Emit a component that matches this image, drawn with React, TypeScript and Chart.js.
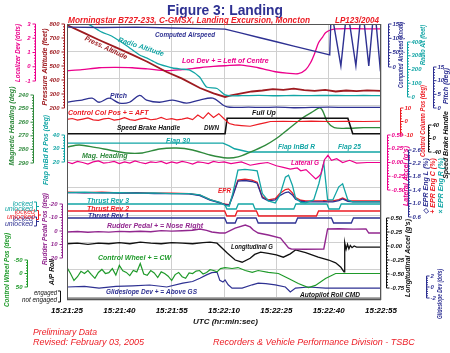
import React, { useEffect, useRef } from 'react';
import { Chart, registerables } from 'chart.js';

Chart.register(...registerables);

// ---------- time axis (seconds after 15:21:25 UTC) ----------
const xTickLabels = ['15:21:25', '15:21:40', '15:21:55', '15:22:10', '15:22:25', '15:22:40', '15:22:55'];

// ---------- series ----------
const casT = [0, 10, 20, 30, 40, 45.3, 50, 55, 60, 65, 70, 75.3, 75.6, 76.4, 78.5, 79.8, 81.0, 82.8, 84.0, 85.2, 86.5, 87.6, 88.6, 89.7, 90];
const casV = [139, 138, 139, 136, 134, 132, 118, 103, 88, 73, 58, 42, 152, 152, 4, 152, 152, 4, 152, 152, 4, 152, 152, 4, 30];

const raT = [0, 4, 7.5, 10, 13, 17, 20.8, 22.8, 25.7, 28.6, 30.3, 33, 35.2, 38, 40, 43, 45.3, 47, 50, 55, 60, 65, 70, 75, 80, 85, 90];
const raV = [610, 560, 509, 472, 440, 375, 305, 284, 247, 222, 211, 203, 196, 145, 73, 62, 15, 8, 10, 12, 9, 11, 10, 12, 10, 11, 10];

const paT = [0, 5, 9.2, 14, 18.8, 23, 28.6, 33, 38.1, 42, 45.3, 47, 50, 53, 56, 59, 62, 65, 68, 71, 74, 77, 80, 83, 86, 90];
const paV = [793, 735, 686, 633, 579, 530, 457, 410, 343, 305, 279, 290, 305, 318, 325, 335, 330, 338, 328, 322, 330, 318, 325, 320, 326, 322];

const locT = [0, 4.3, 9.2, 14, 18.7, 23, 28.6, 33, 38, 42, 45.3, 50, 54.8, 57, 59.7, 63, 66.3, 68.4, 69.8, 71, 72.1, 73.3, 74.1, 75.5, 77, 80, 85, 90];
const locV = [-0.28, -0.2, -0.07, -0.05, -0.07, -0.15, -0.28, -0.2, -0.07, 0.02, 0.07, 0.12, -0.07, -0.2, -0.35, -0.45, -0.49, -0.21, 0.28, 0.95, 1.68, 2.1, 2.38, 2.58, 2.66, 2.68, 2.66, 2.66];

const pitchT = [0, 2, 4.3, 7.2, 9.2, 12.1, 15, 17.9, 20.8, 22.8, 26.5, 30.3, 34.3, 38, 41.8, 44.7, 45.9, 48, 52, 56, 60, 65, 70, 75, 80, 85, 90];
const pitchV = [2.1, 2.5, 2.9, 3.6, 2.1, 3.6, 1.8, 2.1, 4.6, 2.9, 2.1, 2.9, 1.8, 2.9, 3.6, 1.1, 0.4, 0.2, 0.3, 0.2, 0.3, 0.1, 0.2, 0.3, 0.2, 0.2, 0.2];

const ccT = [0, 1.5, 3, 4.5, 6, 7.5, 9, 10.5, 12, 13.5, 15, 16.5, 18, 19.5, 21, 22.5, 24, 25.5, 27, 28.5, 30, 31.5, 33, 34.5, 36, 37.5, 39, 40.5, 42, 43.5, 45, 46.5, 48, 50, 52.5, 55, 57, 58.3, 62, 66, 70, 75, 80, 85, 90];
const ccV = [1.5, 2.2, 1.0, 1.8, 2.6, 1.2, 0.8, 1.9, 2.4, 1.1, 1.6, 2.8, 1.4, 0.9, 2.0, 2.5, 1.3, 1.7, 3.0, 1.5, 2.1, 1.2, 1.8, 2.7, 1.4, 4.8, 2.2, 6.5, 3.0, 5.8, 2.0, -1.5, -2.5, -3.0, -3.5, -2.0, -0.8, 0, 0.2, 0, 0.3, 0, 0.2, 0, 0.2];

const sbT = [0, 45.3, 45.9, 80.5, 81.9, 90];
const sbV = [14, 14, 60, 60, 14, 14];

const hdgT = [0, 3.5, 8, 12.1, 17, 21.6, 26.5, 31.4, 36, 41, 45.9, 49, 52.5, 56.8, 60, 63, 66.9, 70, 72.7, 74.7, 76.6, 80, 85, 90];
const hdgV = [278.2, 276.8, 278.5, 280.4, 282.6, 282.6, 279.7, 279, 280.4, 284.1, 286.3, 285.5, 282, 277, 272, 266, 258, 253, 249.6, 260, 264, 264.5, 264, 264];

const flapT = [0, 44.7, 46.5, 48, 49.6, 52, 90];
const flapV = [34, 34, 32, 29.8, 28.9, 27.4, 27.4];

const latT = [0, 1.5, 3, 4.5, 6, 7.5, 9, 10.5, 12, 13.5, 15, 16.5, 18, 19.5, 21, 22.5, 24, 25.5, 27, 28.5, 30, 31.5, 33, 34.5, 36, 37.5, 39, 40.5, 42, 43.5, 45,
  47, 50, 52.5, 55, 57.5, 60, 62, 64, 66, 67, 68.5, 70, 71.3, 72.2, 72.8, 73.8, 74.8, 75.8, 77.3, 79, 81, 83, 86, 90];
const latV = [0.01, -0.02, 0.02, 0.0, -0.03, 0.01, 0.03, -0.01, 0.0, 0.02, -0.02, 0.01, -0.01, 0.03, 0.0, -0.02, 0.01, 0.0, 0.02, -0.02, 0.01, -0.01, 0.02, 0.0, -0.03, 0.01, 0.0, -0.02, 0.02, 0.0, 0.01,
  -0.02, 0.01, -0.05, -0.02, 0.0, -0.06, -0.09, -0.12, -0.1, -0.15, -0.13, -0.22, -0.30, -0.25, -0.2, 0.05, 0.13, 0.04, 0.07, 0.0, 0.04, -0.01, 0.0, 0.0];

const eprT = [0, 5, 10, 15, 20, 25, 30, 35, 38.1, 41, 43.8, 45.3, 46.5, 47.5, 49, 51, 53, 54.5, 56, 57.7, 59.7, 61, 62.6, 63.5, 64.6, 65.5, 67, 68.4, 70.7, 72.2, 73.3, 73.6, 74.7, 76.2, 77.9, 79, 80.5, 81.9, 85, 90];
const eprR = [1.33, 1.34, 1.32, 1.33, 1.31, 1.32, 1.30, 1.30, 1.26, 1.12, 1.04, 0.95, 0.92, 1.3, 2.0, 2.02, 2.0, 1.98, 1.3, 1.08, 1.02, 1.25, 1.79, 1.85, 1.55, 1.17, 1.04, 1.02, 1.11, 1.6, 2.09, 2.21, 1.11, 1.11, 1.50, 1.59, 1.11, 1.05, 1.05, 1.05];
const eprC = [1.34, 1.33, 1.34, 1.32, 1.33, 1.31, 1.31, 1.30, 1.25, 1.12, 1.03, 0.98, 0.97, 1.25, 1.70, 1.73, 1.70, 1.64, 1.20, 1.11, 1.15, 1.30, 1.42, 1.44, 1.32, 1.18, 1.10, 1.08, 1.08, 1.08, 1.08, 1.09, 1.08, 1.08, 1.12, 1.17, 1.09, 1.08, 1.08, 1.08];
const eprL = [1.33, 1.32, 1.33, 1.31, 1.32, 1.30, 1.30, 1.29, 1.24, 1.10, 1.02, 0.97, 0.96, 1.22, 1.67, 1.69, 1.66, 1.61, 1.17, 1.08, 1.11, 1.24, 1.33, 1.35, 1.26, 1.13, 1.07, 1.05, 1.05, 1.05, 1.05, 1.06, 1.05, 1.05, 1.09, 1.14, 1.07, 1.05, 1.05, 1.05];

// thrust reversers: 1 = locked, 0 = unlocked
const rev3T = [0, 45.2, 45.8, 48.5, 49.1, 53.3, 53.9, 65, 65.6, 74.5, 75.1, 78, 78.6, 90];
const rev3V = [1, 1, 0, 0, 1, 1, 0, 0, 1, 1, 0, 0, 1, 1];
const rev2T = [0, 45.2, 45.8, 48.2, 48.8, 54.3, 54.9, 71.5, 72.1, 90];
const rev2V = [1, 1, 0, 0, 1, 1, 0, 0, 1, 1];
const rev1T = [0, 45.2, 45.8, 48.2, 48.8, 54.2, 54.8, 65.5, 66.1, 75.8, 76.4, 81.5, 82.1, 90];
const rev1V = [1, 1, 0, 0, 1, 1, 0, 0, 1, 1, 0, 0, 1, 1];

const rudT = [0, 3, 6, 9, 12, 15, 18, 21, 24, 27, 30, 33, 36, 38.1, 40, 41.5, 43.8, 45.3, 48.2, 51.1, 52.5, 53.4, 54.8, 57.7, 61.2, 63.5, 64.3, 68, 73.6, 74.7, 78, 82, 85.7, 86.5, 90];
const rudV = [0.7, 0.4, 0.9, 0.5, 0.8, 0.3, 0.6, 0.2, 0.5, -0.3, 0.1, -0.2, -0.6, -1.5, -0.5, 0.7, 1.5, 1.5, -2.2, -4.4, -3.0, -0.7, 1.5, 3.0, 5.2, 12.6, 13.3, 13.5, 13.3, -1.5, -1.7, -1.4, -1.5, 1.5, 1.5];

const lonT = [0, 3, 6, 9, 12, 15, 18, 21, 24, 27, 30, 33, 36, 39, 41, 43, 44.5, 46, 48.2, 50.2, 52.5, 53.8, 55.5, 57.7, 60, 62, 64, 65.5, 68.4, 72, 75, 77, 78.5, 79.4, 79.6, 80, 80.4, 80.8, 81.2, 81.7, 82.3, 83, 90];
const lonV = [0.04, 0.05, 0.03, 0.05, 0.04, 0.06, 0.04, 0.07, 0.05, 0.04, 0.06, 0.05, 0.04, 0.06, 0.07, 0.05, -0.04, -0.13, -0.25, -0.29, -0.22, -0.15, -0.11, -0.13, -0.16, -0.2, -0.14, -0.07, -0.12, -0.2, -0.25, -0.3, -0.38, -0.46, 0.06, -0.06, 0.03, -0.05, 0.01, -0.03, 0.0, -0.02, -0.02];

const cwT = [0, 1, 2, 3, 4, 5, 6, 7, 8, 9, 10, 11, 12, 13, 14, 15, 16, 17, 18, 19, 20, 21, 22, 23, 24, 25, 26, 27, 28, 29, 30, 31, 32, 33, 34, 35, 36, 37, 38, 39, 40, 41, 42, 43, 44,
  45.3, 47.3, 49, 51.1, 53.1, 54.8, 57.7, 60.6, 63.5, 66.3, 69.2, 71.2, 74.1, 77, 80, 84, 90];
const cwV = [-22, 0, 26, 12, -8, 0, -11, 4, 18, -4, -15, 0, -3, -18, 6, -30, -10, -4, 8, -11, -6, -37, 2, 7, -11, -2, 15, -6, 0, 10, 26, 4, -4, 12, 18, -2, 0, -9, -11, 2, -4, -14, -11, -6, -18,
  -22, -18.5, -22, -11, -4, -11, -4, 0, 18.5, 37, 52, 44, 18.5, 0, 0, 0, 0];

const gsT = [0, 5, 9.2, 14, 18.8, 23.7, 28.6, 33.2, 36, 38.1, 40, 41.5, 43, 43.8, 44.7, 45.3, 46.2, 47.3, 50.2, 53.1, 54.8, 57, 59.7, 62.6, 64, 65.5, 69.2, 74.1, 80, 90];
const gsV = [0, 0.1, -0.2, 0.1, 0.2, 0.36, 0, 0.7, 1.0, 1.6, 2.2, 2.6, 2.7, 1.2, 0.9, 1.3, 0.4, -0.2, -0.2, 0.4, 0.7, 0.6, 0.4, 0, -0.9, -0.2, 0, -0.2, -0.2, -0.2];

const apT = [0, 90];
const apV = [0, 0];

// ---------- axis tick values ----------
const locTicks = [3, 2, 1, 0, -1];
const paltTicks = [800, 700, 600, 500, 400, 300, 200];
const hdgTicks = [240, 250, 260, 270, 280, 290];
const flapTicks = [40, 30, 20];
const rudTicks = [-20, -10, 0, 10, 20];
const cwTicks = [-50, 0, 50];
const casTicks = [150, 100, 50, 0];
const raltTicks = [400, 300, 200, 100, 0];
const pitchTicks = [15, 10, 5, 0];
const ccolTicks = [10, 0, -10];
const sbhTicks = [40, 0, -40];
const latTicks = [0.5, 0.25, 0, -0.25, -0.5];
const eprTicks = [2.6, 2.2, 1.8, 1.4, 1.0, 0.6];
const lonTicks = [0.5, 0.25, 0, -0.25, -0.5, -0.75];
const gsTicks = [2, 0, -2];

// ---------- styling ----------
const FAM = '"Liberation Sans", Arial, Helvetica, sans-serif';
const BLUE = '#2e3192', TEAL = '#12a5a5', RED = '#ec1c24', DARKRED = '#9e1b20', MAGENTA = '#ec008c';
const GREEN = '#2f8a3c', GREEN2 = '#1f9a2a', PURPLE = '#92278f', BLACK = '#111111', GRAY = '#8a8a8a';
const PLOT_TOP = 24, PLOT_BOTTOM = 300;

// value vA sits at pixel pA, vB at pB; returns a linear scale range over the plot height
function band(vA: number, pA: number, vB: number, pB: number) {
  const s = (vA - vB) / (pB - pA);
  if (s > 0) return { min: vB - (PLOT_BOTTOM - pB) * s, max: vA + (pA - PLOT_TOP) * s, reverse: false };
  const r = -s;
  return { min: vA - (pA - PLOT_TOP) * r, max: vB + (PLOT_BOTTOM - pB) * r, reverse: true };
}

const bandDefs: [string, number, number, number, number][] = [
  ['cas', 150, 24, 0, 67], ['ralt', 400, 42, 0, 97], ['palt', 800, 24, 200, 108], ['loc', 3, 24, -1, 81],
  ['pitch', 15, 67, 0, 108], ['ccol', 10, 108, -10, 135], ['sbh', 40, 125, -40, 152], ['hdg', 240, 95, 290, 163],
  ['flap', 40, 135, 20, 162], ['lat', 0.5, 135, -0.5, 190], ['epr', 2.6, 150, 0.6, 217],
  ['rev3', 1, 204, 0, 209], ['rev2', 1, 211, 0, 216], ['rev1', 1, 218, 0, 223],
  ['rud', -20, 204, 20, 258], ['lon', 0.5, 218, -0.75, 288], ['cw', -50, 260, 50, 287],
  ['gs', 2, 276, -2, 298], ['ap', 1, 293, 0, 299],
];

const series = [
  { t: apT, v: apV, ax: 'ap', c: GRAY, w: 3, ten: 0 },
  { t: casT, v: casV, ax: 'cas', c: BLUE, w: 1.4, ten: 0 },
  { t: raT, v: raV, ax: 'ralt', c: TEAL, w: 1.3, ten: 0.2 },
  { t: paT, v: paV, ax: 'palt', c: DARKRED, w: 1.8, ten: 0 },
  { t: locT, v: locV, ax: 'loc', c: MAGENTA, w: 1.3, ten: 0.3 },
  { t: pitchT, v: pitchV, ax: 'pitch', c: BLUE, w: 1.3, ten: 0.35 },
  { t: ccT, v: ccV, ax: 'ccol', c: RED, w: 1.2, ten: 0 },
  { t: sbT, v: sbV, ax: 'sbh', c: BLACK, w: 1.6, ten: 0 },
  { t: hdgT, v: hdgV, ax: 'hdg', c: GREEN, w: 1.4, ten: 0.3 },
  { t: flapT, v: flapV, ax: 'flap', c: TEAL, w: 1.4, ten: 0 },
  { t: latT, v: latV, ax: 'lat', c: MAGENTA, w: 1.2, ten: 0 },
  { t: eprT, v: eprR, ax: 'epr', c: TEAL, w: 1.3, ten: 0 },
  { t: eprT, v: eprL, ax: 'epr', c: BLUE, w: 1.3, ten: 0 },
  { t: eprT, v: eprC, ax: 'epr', c: RED, w: 1.3, ten: 0 },
  { t: rev3T, v: rev3V, ax: 'rev3', c: TEAL, w: 1.3, ten: 0 },
  { t: rev2T, v: rev2V, ax: 'rev2', c: RED, w: 1.3, ten: 0 },
  { t: rev1T, v: rev1V, ax: 'rev1', c: BLUE, w: 1.3, ten: 0 },
  { t: rudT, v: rudV, ax: 'rud', c: PURPLE, w: 1.4, ten: 0 },
  { t: lonT, v: lonV, ax: 'lon', c: BLACK, w: 1.3, ten: 0 },
  { t: cwT, v: cwV, ax: 'cw', c: GREEN2, w: 1.2, ten: 0 },
  { t: gsT, v: gsV, ax: 'gs', c: BLUE, w: 1.2, ten: 0 },
];

type AxisSpec = { id?: string; ticks?: number[]; dec?: number; x?: number; side?: 'L' | 'R'; color: string; title: string; tx: number; ty: number; tw: number };
const AXES: AxisSpec[] = [
  { id: 'loc', ticks: locTicks, dec: 0, x: 35, side: 'L', color: MAGENTA, title: 'Localizer Dev (dots)', tx: 18, ty: 53, tw: 58 },
  { id: 'palt', ticks: paltTicks, dec: 0, x: 64, side: 'L', color: DARKRED, title: 'Pressure Altitude (feet)', tx: 45, ty: 67, tw: 84 },
  { id: 'hdg', ticks: hdgTicks, dec: 0, x: 33, side: 'L', color: GREEN, title: 'Magnetic Heading (deg)', tx: 12, ty: 126, tw: 80 },
  { id: 'flap', ticks: flapTicks, dec: 0, x: 64, side: 'L', color: TEAL, title: 'Flap InBd R Pos (deg)', tx: 46, ty: 150, tw: 70 },
  { id: 'rud', ticks: rudTicks, dec: 0, x: 62, side: 'L', color: PURPLE, title: 'Rudder Pedal Pos (deg)', tx: 45, ty: 229, tw: 72 },
  { id: 'cw', ticks: cwTicks, dec: 0, x: 27, side: 'L', color: GREEN2, title: 'Control Wheel Pos (deg)', tx: 7, ty: 270, tw: 74 },
  { color: BLACK, title: 'A/P Roll', tx: 52, ty: 272, tw: 26 },
  { id: 'cas', ticks: casTicks, dec: 0, x: 388, side: 'R', color: BLUE, title: 'Computed Airspeed (Knots)', tx: 401, ty: 55, tw: 66 },
  { id: 'ralt', ticks: raltTicks, dec: 0, x: 407, side: 'R', color: TEAL, title: 'Radio Alt (feet)', tx: 423, ty: 45, tw: 40 },
  { id: 'pitch', ticks: pitchTicks, dec: 0, x: 433, side: 'R', color: BLUE, title: 'Pitch (deg)', tx: 446, ty: 86, tw: 42 },
  { id: 'ccol', ticks: ccolTicks, dec: 0, x: 400, side: 'R', color: RED, title: 'Control Column Pos (deg)', tx: 423, ty: 121, tw: 72 },
  { id: 'sbh', ticks: sbhTicks, dec: 0, x: 428, side: 'R', color: BLACK, title: 'Speed Brake Handle', tx: 446, ty: 145, tw: 68 },
  { id: 'lat', ticks: latTicks, dec: 2, x: 387, side: 'R', color: MAGENTA, title: "Lateral Accel (g's)", tx: 406, ty: 176, tw: 72 },
  { id: 'epr', ticks: eprTicks, dec: 1, x: 408, side: 'R', color: BLUE, title: '\u25C7 EPR Eng L (%)', tx: 426, ty: 186, tw: 68 },
  { color: RED, title: '+ EPR Eng C (%)', tx: 433, ty: 186, tw: 68 },
  { color: TEAL, title: '\u00D7 EPR Eng R (%)', tx: 441, ty: 186, tw: 68 },
  { id: 'lon', ticks: lonTicks, dec: 2, x: 386, side: 'R', color: BLACK, title: "Longitudinal Accel (g's)", tx: 408, ty: 258, tw: 78 },
  { id: 'gs', ticks: gsTicks, dec: 0, x: 426, side: 'R', color: BLUE, title: 'Glideslope Dev (dots)', tx: 440, ty: 294, tw: 50 },
];

// in-plot annotations: text, left x, centre y, width, colour, rotation (deg, about centre if set)
const plotLabels: [string, number, number, number, string, number][] = [
  ['Computed Airspeed', 155, 35, 60, BLUE, 0],
  ['Loc Dev + = Left of Centre', 182, 61, 95, MAGENTA, 0],
  ['Pitch', 110, 96, 17, BLUE, 0],
  ['Control Col Pos + = AFT', 68, 113, 88, RED, 0],
  ['Speed Brake Handle', 117, 128, 63, BLACK, 0],
  ['DWN', 204, 128, 15, BLACK, 0],
  ['Full Up', 252, 113, 25, BLACK, 0],
  ['Flap 30', 166, 141, 24, TEAL, 0],
  ['Mag. Heading', 82, 156, 46, GREEN, 0],
  ['Flap InBd R', 278, 147, 37, TEAL, 0],
  ['Flap 25', 338, 147, 23, TEAL, 0],
  ['Lateral G', 291, 163, 28, MAGENTA, 0],
  ['EPR', 218, 191, 13, RED, 0],
  ['Thrust Rev 3', 87, 201, 42, TEAL, 0],
  ['Thrust Rev 2', 87, 209, 42, RED, 0],
  ['Thrust Rev 1', 88, 216, 41, BLUE, 0],
  ['Rudder Pedal + = Nose Right', 107, 226, 96, PURPLE, 0],
  ['Longitudinal G', 231, 247, 42, BLACK, 0],
  ['Control Wheel + = CW', 98, 258, 77, GREEN2, 0],
  ['Glideslope Dev + = Above GS', 106, 292, 91, BLUE, 0],
  ['Autopilot Roll CMD', 300, 295, 60, BLACK, 0],
  ['Radio Altitude', 141, 47, 55, TEAL, 18],
  ['Press. Altitude', 106, 48, 46, DARKRED, 25],
];

const fmt = (v: number, dec: number) => (v < 0 ? '-' : '') + Math.abs(v).toFixed(dec);

function text(ctx: CanvasRenderingContext2D, s: string, x: number, y: number, color: string, font: string, align: CanvasTextAlign, maxW?: number, rot?: number) {
  ctx.save();
  ctx.fillStyle = color;
  ctx.font = font;
  ctx.textAlign = align;
  ctx.textBaseline = 'middle';
  ctx.translate(x, y);
  if (rot) ctx.rotate(rot);
  if (maxW) ctx.fillText(s, 0, 0, maxW); else ctx.fillText(s, 0, 0);
  ctx.restore();
}

const LABEL_FONT = `italic bold 7px ${FAM}`;
const TICK_FONT = `italic bold 6px ${FAM}`;

const decorPlugin = {
  id: 'decor',
  afterDraw(chart: any) {
    const ctx: CanvasRenderingContext2D = chart.ctx;
    const ca = chart.chartArea;
    ctx.save();
    // frame
    ctx.strokeStyle = '#555';
    ctx.lineWidth = 1;
    ctx.strokeRect(ca.left + 0.5, ca.top + 0.5, ca.right - ca.left - 1, ca.bottom - ca.top - 1);

    // axes
    AXES.forEach((ax) => {
      if (ax.id && ax.ticks && ax.x !== undefined) {
        const sc = chart.scales[ax.id];
        const ys = ax.ticks.map((v) => sc.getPixelForValue(v));
        const dir = ax.side === 'L' ? -1 : 1;
        const x = Math.round(ax.x) + 0.5;
        ctx.strokeStyle = ax.color;
        ctx.lineWidth = 1;
        ctx.beginPath();
        ctx.moveTo(x, Math.min(...ys));
        ctx.lineTo(x, Math.max(...ys));
        ys.forEach((y) => { ctx.moveTo(x, y); ctx.lineTo(x + dir * 3, y); });
        for (let i = 0; i < ys.length - 1; i++) {
          for (let k = 1; k < 5; k++) {
            const y = ys[i] + ((ys[i + 1] - ys[i]) * k) / 5;
            ctx.moveTo(x, y);
            ctx.lineTo(x + dir * 1.5, y);
          }
        }
        ctx.stroke();
        ax.ticks.forEach((v, i) => text(ctx, fmt(v, ax.dec || 0), ax.x! + dir * 4.5, ys[i], ax.color, TICK_FONT, dir < 0 ? 'right' : 'left'));
      }
      text(ctx, ax.title, ax.tx, ax.ty, ax.color, LABEL_FONT, 'center', ax.tw, -Math.PI / 2);
    });

    // thrust reverser state labels
    const revLab: [string, string, number][] = [
      [BLUE, 'rev1', 33],
      [RED, 'rev2', 35],
      [TEAL, 'rev3', 33],
    ];
    revLab.forEach(([c, id, xr]) => {
      const sc = chart.scales[id];
      const off = id === 'rev2' ? 1.5 : id === 'rev1' ? 1 : 0;
      const yl = sc.getPixelForValue(1) + off;
      const yu = sc.getPixelForValue(0) + off;
      text(ctx, 'locked', xr, yl, c, `italic 7px ${FAM}`, 'right', 22);
      text(ctx, 'unlocked', xr, yu, c, `italic 7px ${FAM}`, 'right', 30);
      ctx.strokeStyle = c;
      ctx.beginPath();
      ctx.moveTo(xr + 1, yl - 2); ctx.lineTo(xr + 3.5, yl - 2); ctx.lineTo(xr + 3.5, yu + 2); ctx.lineTo(xr + 1, yu + 2);
      ctx.moveTo(xr + 3.5, (yl + yu) / 2); ctx.lineTo(xr + 6, (yl + yu) / 2);
      ctx.stroke();
    });
    // A/P roll state labels
    const ap = chart.scales['ap'];
    const ye = ap.getPixelForValue(1), yn = ap.getPixelForValue(0) + 1;
    text(ctx, 'engaged', 57, ye, BLACK, `italic 7px ${FAM}`, 'right', 23);
    text(ctx, 'not engaged', 57, yn, BLACK, `italic 7px ${FAM}`, 'right', 35);
    ctx.strokeStyle = BLACK;
    ctx.beginPath();
    ctx.moveTo(58, ye - 2); ctx.lineTo(60.5, ye - 2); ctx.lineTo(60.5, yn + 2); ctx.lineTo(58, yn + 2);
    ctx.stroke();

    // annotations inside the plot
    plotLabels.forEach(([s, x, y, w, c, rot]) => {
      if (rot) text(ctx, s, x, y, c, LABEL_FONT, 'center', w, (rot * Math.PI) / 180);
      else text(ctx, s, x, y, c, LABEL_FONT, 'left', w);
    });

    // headings and footers
    ctx.textBaseline = 'alphabetic';
    ctx.fillStyle = BLUE;
    ctx.font = `bold 14px ${FAM}`;
    ctx.textAlign = 'center';
    ctx.fillText('Figure 3: Landing', 225, 15, 116);
    ctx.fillStyle = RED;
    ctx.font = `italic bold 9px ${FAM}`;
    ctx.textAlign = 'left';
    ctx.fillText('Morningstar B727-233, C-GMSX, Landing Excursion, Moncton', 68, 23, 242);
    ctx.fillText('LP123/2004', 335, 23, 44);
    ctx.fillStyle = BLACK;
    ctx.font = `italic bold 8px ${FAM}`;
    ctx.fillText('UTC (hr:min:sec)', 193, 324, 73);
    ctx.fillStyle = RED;
    ctx.font = `italic 9px ${FAM}`;
    ctx.fillText('Preliminary Data', 33, 335, 64);
    ctx.fillText('Revised: February 03, 2005', 33, 345, 112);
    ctx.fillText('Recorders & Vehicle Performance Division - TSBC', 213, 345, 202);
    ctx.restore();
  },
};

// background grid: lines every 27.3 px starting 17 px below the plot top
const GRID_STEP_PX = 27.3;
const GRID_FIRST_PX = 41;

export default function App() {
  const ref = useRef<HTMLCanvasElement>(null);
  useEffect(() => {
    if (!ref.current) return;
    const gMin = -(GRID_FIRST_PX - PLOT_TOP) / GRID_STEP_PX;
    const gMax = gMin + (PLOT_BOTTOM - PLOT_TOP) / GRID_STEP_PX;
    const scales: any = {
      x: {
        type: 'linear',
        min: 0,
        max: 90,
        ticks: {
          stepSize: 15,
          autoSkip: false,
          maxRotation: 0,
          padding: 6,
          color: '#000',
          font: { family: FAM, size: 8, style: 'italic', weight: 'bold' },
          callback: (v: number) => xTickLabels[Math.round(v / 15)],
        },
        grid: { color: '#cfcfcf', drawTicks: false },
        border: { display: false },
        afterFit: (s: any) => { s.height = 22; },
      },
      grid: {
        axis: 'y',
        type: 'linear',
        position: 'left',
        min: gMin,
        max: gMax,
        reverse: true,
        bounds: 'data',
        ticks: { display: false, stepSize: 1 },
        grid: { color: '#d0d0d0', drawTicks: false },
        border: { display: false },
        afterFit: (s: any) => { s.width = 0; },
      },
    };
    bandDefs.forEach(([id, vA, pA, vB, pB]) => {
      scales[id] = { axis: 'y', type: 'linear', display: false, position: 'right', bounds: 'data', ...band(vA, pA, vB, pB) };
    });
    const datasets = series.map((s, i) => ({
      label: 's' + i,
      data: s.t.map((x, j) => ({ x, y: s.v[j] })),
      yAxisID: s.ax,
      borderColor: s.c,
      backgroundColor: s.c,
      borderWidth: s.w,
      pointRadius: 0,
      tension: s.ten,
      fill: false,
    }));
    const chart = new Chart(ref.current, {
      type: 'line',
      data: { datasets },
      options: {
        animation: false,
        responsive: true,
        maintainAspectRatio: false,
        parsing: false as any,
        layout: { padding: { left: 67, right: 69, top: 24, bottom: 31 } },
        plugins: { legend: { display: false }, tooltip: { enabled: false }, title: { display: false } },
        scales,
      },
      plugins: [decorPlugin],
    } as any);
    return () => chart.destroy();
  }, []);
  return (
    <div style={{ position: 'fixed', left: 0, top: 0, width: 450, height: 353, background: '#fff' }}>
      <canvas ref={ref} />
    </div>
  );
}
